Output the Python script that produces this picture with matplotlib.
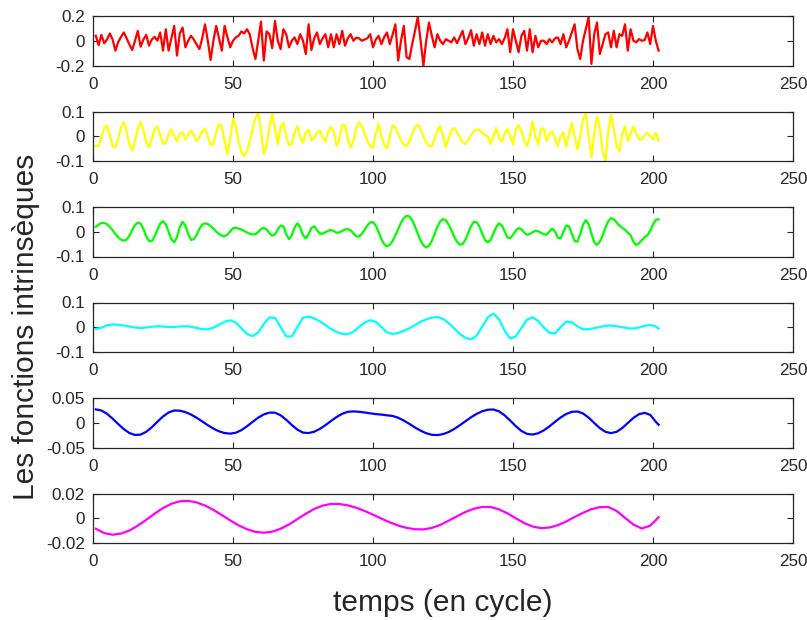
import numpy as np
import matplotlib
matplotlib.use("Agg")
import matplotlib.pyplot as plt

plt.rcParams['font.family'] = ['Liberation Sans', 'DejaVu Sans']
plt.rcParams['axes.unicode_minus'] = False

# cycle positions
x_full = list(range(1, 203))
x_half = list(range(1, 202, 2)) + [202]
x_third = list(range(1, 203, 3))

# IMF 1 (red)
imf1 = [0.040, -0.035, 0.048, -0.020, 0.010, 0.059, 0.010, -0.080, -0.010, 0.030,
        0.067, 0.020, -0.030, -0.075, 0.000, 0.080, -0.048, 0.010, 0.048, -0.040,
        0.010, 0.032, 0.000, 0.067, -0.080, 0.093, -0.080, 0.020, 0.120, -0.120,
        0.060, 0.107, -0.053, 0.000, 0.040, 0.010, -0.030, -0.067, 0.020, 0.133,
        0.000, -0.155, 0.000, 0.120, 0.020, -0.080, 0.120, 0.030, -0.053, 0.000,
        0.027, 0.040, 0.075, 0.060, 0.093, 0.050, -0.060, -0.147, 0.000, 0.155,
        -0.160, 0.075, 0.053, -0.059, 0.160, 0.000, -0.067, 0.093, 0.053, -0.053,
        0.000, 0.027, -0.027, 0.053, 0.000, -0.107, 0.133, -0.075, 0.020, 0.067,
        -0.027, 0.020, 0.053, -0.053, 0.053, -0.053, 0.053, -0.027, 0.080, -0.040,
        0.020, 0.053, 0.000, 0.025, 0.020, 0.000, 0.010, 0.020, 0.053, -0.053,
        0.010, 0.040, -0.027, 0.030, 0.067, -0.027, 0.050, 0.133, -0.160, 0.000,
        0.120, -0.133, -0.147, -0.027, 0.080, 0.192, 0.000, -0.200, 0.000, 0.147,
        0.040, -0.053, 0.053, 0.000, -0.027, 0.013, 0.000, -0.013, 0.027, -0.020,
        0.030, 0.080, -0.027, 0.020, 0.085, -0.040, 0.053, -0.027, 0.067, -0.040,
        0.053, -0.027, 0.040, -0.013, 0.013, -0.027, 0.020, 0.093, -0.093, 0.093,
        0.000, -0.093, 0.040, 0.080, -0.080, 0.093, -0.093, 0.040, -0.053, 0.000,
        0.000, -0.027, 0.013, -0.013, 0.020, 0.027, -0.027, 0.053, -0.053, 0.000,
        0.067, 0.133, -0.067, -0.147, 0.000, 0.093, 0.192, -0.187, 0.053, 0.147,
        -0.107, -0.030, 0.053, 0.067, -0.053, 0.080, -0.053, 0.053, 0.040, 0.133,
        -0.080, 0.093, 0.000, -0.013, 0.013, 0.000, 0.005, 0.067, -0.027, 0.120,
        0.000, -0.080]

# IMF 2 (yellow)
imf2 = [-0.040, -0.038, -0.005, 0.035, 0.044, 0.005, -0.040, -0.045, -0.010, 0.035,
        0.057, 0.020, -0.035, -0.057, -0.020, 0.030, 0.057, 0.025, -0.025, -0.044,
        -0.010, 0.030, 0.040, 0.005, -0.031, -0.028, 0.010, 0.027, 0.000, -0.020,
        0.010, 0.017, -0.013, 0.005, 0.023, 0.005, -0.020, -0.005, 0.020, 0.031,
        0.000, -0.036, -0.030, 0.015, 0.049, 0.040, -0.020, -0.073, -0.010, 0.071,
        0.040, -0.020, -0.065, -0.080, -0.060, -0.020, 0.030, 0.075, 0.093, 0.020,
        -0.071, -0.040, 0.040, 0.093, 0.030, -0.033, 0.040, 0.055, 0.000, -0.036,
        -0.030, 0.015, 0.040, -0.005, -0.027, 0.015, 0.027, -0.017, -0.005, 0.015,
        0.023, -0.005, -0.020, 0.020, 0.036, 0.020, -0.040, -0.010, 0.045, 0.045,
        -0.010, -0.047, -0.020, 0.035, 0.057, 0.040, 0.010, -0.020, -0.040, -0.047,
        0.010, 0.049, 0.000, -0.035, -0.049, 0.000, 0.044, 0.035, 0.010, -0.015,
        -0.035, -0.040, -0.020, 0.010, 0.035, 0.047, 0.030, 0.000, -0.025, -0.038,
        -0.040, -0.010, 0.025, 0.040, 0.000, -0.044, -0.010, 0.025, 0.033, 0.015,
        -0.005, -0.025, -0.031, -0.015, 0.005, 0.020, 0.027, 0.025, 0.015, 0.004,
        0.000, -0.031, 0.000, 0.033, -0.005, -0.023, 0.010, 0.030, 0.000, -0.033,
        0.030, 0.045, 0.020, -0.015, -0.040, 0.000, 0.060, 0.000, -0.033, 0.031,
        0.030, -0.020, 0.010, 0.020, -0.010, -0.040, 0.000, 0.015, -0.044, 0.010,
        0.053, 0.000, -0.053, 0.000, 0.070, 0.093, 0.000, -0.087, 0.010, 0.080,
        0.030, -0.060, -0.103, 0.020, 0.087, 0.030, -0.040, -0.060, 0.010, 0.040,
        -0.020, 0.010, 0.040, 0.010, -0.013, -0.013, 0.005, 0.013, 0.000, -0.013,
        0.015, -0.017]

# IMF 3 (green)
imf3 = [0.020, 0.029, 0.035, 0.036, 0.030, 0.020, 0.006, -0.009, -0.022, -0.032,
        -0.036, -0.032, -0.016, 0.007, 0.027, 0.037, 0.033, 0.011, -0.018, -0.037,
        -0.038, -0.019, 0.009, 0.033, 0.043, 0.030, 0.000, -0.030, -0.043, -0.022,
        0.019, 0.040, 0.025, -0.009, -0.033, -0.030, -0.013, 0.011, 0.029, 0.034,
        0.031, 0.023, 0.013, 0.001, -0.009, -0.016, -0.018, -0.012, 0.002, 0.014,
        0.016, 0.013, 0.009, 0.003, -0.003, -0.008, -0.011, -0.010, -0.001, 0.011,
        0.016, 0.009, -0.006, -0.016, -0.010, 0.009, 0.025, 0.022, -0.010, -0.030,
        -0.014, 0.018, 0.034, 0.018, -0.014, -0.027, -0.010, 0.016, 0.022, 0.007,
        -0.008, -0.008, -0.002, 0.004, 0.007, 0.003, -0.004, -0.003, 0.003, 0.009,
        0.011, 0.006, -0.007, -0.018, -0.019, -0.009, 0.008, 0.026, 0.038, 0.039,
        0.025, -0.001, -0.029, -0.051, -0.059, -0.053, -0.038, -0.014, 0.012, 0.037,
        0.055, 0.064, 0.062, 0.046, 0.021, -0.008, -0.035, -0.055, -0.063, -0.057,
        -0.037, -0.009, 0.020, 0.042, 0.051, 0.046, 0.029, 0.006, -0.020, -0.041,
        -0.052, -0.050, -0.032, -0.004, 0.023, 0.040, 0.039, 0.021, -0.008, -0.033,
        -0.043, -0.033, -0.007, 0.019, 0.034, 0.026, 0.001, -0.023, -0.026, -0.013,
        0.005, 0.015, 0.010, -0.003, -0.012, -0.009, -0.002, 0.004, 0.002, -0.004,
        -0.010, -0.012, 0.001, 0.013, 0.002, -0.024, -0.027, -0.001, 0.025, 0.022,
        -0.008, -0.037, -0.040, -0.010, 0.029, 0.047, 0.031, -0.007, -0.042, -0.053,
        -0.040, -0.015, 0.017, 0.042, 0.055, 0.050, 0.038, 0.025, 0.016, 0.008,
        -0.003, -0.014, -0.040, -0.054, -0.046, -0.034, -0.022, -0.014, 0.004, 0.030,
        0.048, 0.050]

# IMF 4 (cyan)
imf4 = [-0.007, -0.002, 0.008, 0.011, 0.010, 0.007, 0.003, -0.001, -0.003, -0.001,
        0.002, 0.004, 0.003, 0.001, 0.001, 0.003, 0.004, 0.002, -0.003, -0.008,
        -0.008, -0.002, 0.010, 0.022, 0.028, 0.019, -0.004, -0.027, -0.036, -0.021,
        0.013, 0.040, 0.038, 0.001, -0.037, -0.037, 0.001, 0.038, 0.043, 0.036,
        0.024, 0.009, -0.007, -0.019, -0.027, -0.028, -0.018, 0.001, 0.019, 0.028,
        0.022, 0.001, -0.021, -0.027, -0.023, -0.015, -0.004, 0.009, 0.022, 0.032,
        0.039, 0.041, 0.034, 0.017, -0.005, -0.027, -0.043, -0.049, -0.034, 0.003,
        0.040, 0.055, 0.033, -0.014, -0.046, -0.037, -0.003, 0.031, 0.040, 0.025,
        -0.001, -0.022, -0.025, 0.000, 0.023, 0.020, 0.004, -0.008, -0.008, -0.004,
        0.001, 0.006, 0.007, 0.004, 0.000, -0.004, -0.005, -0.001, 0.006, 0.009,
        0.003, -0.005]

# IMF 5 (blue)
imf5 = [0.0270, 0.0247, 0.0181, 0.0084, -0.0026, -0.0129, -0.0208, -0.0247, -0.0239, -0.0183,
        -0.0091, 0.0020, 0.0127, 0.0208, 0.0248, 0.0244, 0.0215, 0.0166, 0.0101, 0.0027,
        -0.0049, -0.0118, -0.0173, -0.0208, -0.0220, -0.0202, -0.0149, -0.0071, 0.0018, 0.0103,
        0.0169, 0.0205, 0.0203, 0.0151, 0.0061, -0.0045, -0.0140, -0.0199, -0.0208, -0.0181,
        -0.0125, -0.0049, 0.0036, 0.0116, 0.0181, 0.0221, 0.0229, 0.0222, 0.0208, 0.0190,
        0.0175, 0.0165, 0.0150, 0.0137, 0.0101, 0.0045, -0.0023, -0.0095, -0.0160, -0.0212,
        -0.0243, -0.0249, -0.0230, -0.0188, -0.0126, -0.0051, 0.0030, 0.0110, 0.0179, 0.0232,
        0.0263, 0.0268, 0.0231, 0.0151, 0.0044, -0.0069, -0.0165, -0.0225, -0.0239, -0.0212,
        -0.0154, -0.0073, 0.0018, 0.0106, 0.0177, 0.0220, 0.0228, 0.0188, 0.0104, -0.0004,
        -0.0108, -0.0183, -0.0210, -0.0183, -0.0108, -0.0005, 0.0098, 0.0173, 0.0200, 0.0160,
        0.0020, -0.0040]

# IMF 6 (magenta)
imf6 = [-0.0085, -0.0120, -0.0133, -0.0124, -0.0099, -0.0060, -0.0013, 0.0037, 0.0082, 0.0117,
        0.0137, 0.0140, 0.0128, 0.0103, 0.0068, 0.0026, -0.0017, -0.0057, -0.0089, -0.0110,
        -0.0117, -0.0109, -0.0085, -0.0050, -0.0007, 0.0036, 0.0075, 0.0102, 0.0116, 0.0115,
        0.0104, 0.0085, 0.0059, 0.0029, -0.0003, -0.0033, -0.0059, -0.0078, -0.0089, -0.0090,
        -0.0078, -0.0054, -0.0020, 0.0016, 0.0050, 0.0077, 0.0091, 0.0091, 0.0072, 0.0040,
        0.0000, -0.0039, -0.0067, -0.0080, -0.0075, -0.0056, -0.0026, 0.0010, 0.0044, 0.0073,
        0.0090, 0.0091, 0.0059, 0.0004, -0.0051, -0.0083, -0.0060, 0.0008]

series = [
    (x_full, imf1, 'red', 0.2, ['-0.2', '0', '0.2']),
    (x_full, imf2, 'yellow', 0.1, ['-0.1', '0', '0.1']),
    (x_full, imf3, 'lime', 0.1, ['-0.1', '0', '0.1']),
    (x_half, imf4, 'cyan', 0.1, ['-0.1', '0', '0.1']),
    (x_half, imf5, 'blue', 0.05, ['-0.05', '0', '0.05']),
    (x_third, imf6, 'magenta', 0.02, ['-0.02', '0', '0.02']),
]

W, H = 807, 620
fig = plt.figure(figsize=(W / 100, H / 100), dpi=100)
axcol = '#262626'

for i, (xs, ys, col, lim, labs) in enumerate(series):
    top = 16 + 95.5 * i
    h = 49.5
    ax = fig.add_axes([93 / W, 1 - (top + h) / H, 700 / W, h / H])
    ax.plot(xs, ys, color=col, lw=1.6)
    ax.set_xlim(0, 250)
    ax.set_ylim(-lim, lim)
    ax.set_xticks([0, 50, 100, 150, 200, 250])
    ax.set_yticks([-lim, 0, lim])
    ax.set_yticklabels(labs)
    ax.tick_params(direction='in', length=4, width=0.8, top=True, right=True,
                   labelsize=12.3, colors=axcol)
    ax.tick_params(axis='x', pad=8)
    ax.tick_params(axis='y', pad=6)
    for s in ax.spines.values():
        s.set_color(axcol)
        s.set_linewidth(0.9)

fig.text(443 / W, 1 - 603 / H, 'temps (en cycle)', ha='center', va='center',
         fontsize=21.5, color=axcol)
fig.text(26 / W, 1 - 327 / H, 'Les fonctions intrinsèques', ha='center', va='center',
         rotation=90, fontsize=21.5, color=axcol)

fig.savefig('out.png', dpi=100)
